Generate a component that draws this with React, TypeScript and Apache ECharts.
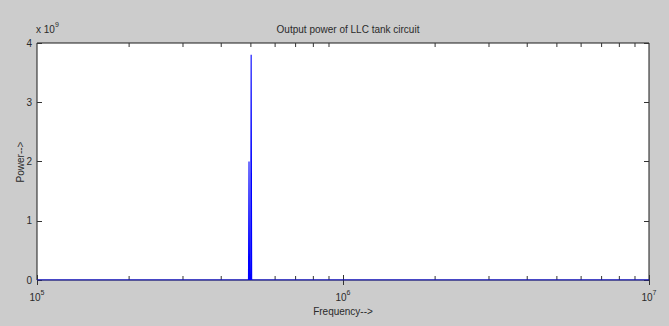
import React, { useEffect, useRef } from "react";
import * as echarts from "echarts";

// Swept frequency (Hz) and the output power measured at each point (W)
const frequency = [1e5, 4.88e5, 4.91e5, 4.93e5, 4.95e5, 4.99e5, 5.01e5, 5.03e5, 1e7];
const power = [0, 0, 0, 2.0e9, 0, 0, 3.8e9, 0, 0];

// Decade (major) and intermediate (minor) tick positions on the log frequency axis
const majorFreqTicks = [1e5, 1e6, 1e7];
const minorFreqTicks = [
  2e5, 3e5, 4e5, 5e5, 6e5, 7e5, 8e5, 9e5,
  2e6, 3e6, 4e6, 5e6, 6e6, 7e6, 8e6, 9e6,
];
const powerTicks = [0, 1, 2, 3, 4]; // in units of 1e9

const FONT = "'Liberation Sans Narrow', 'Liberation Sans', Arial, sans-serif";
const TEXT = "#2a2a2a";

export default function App() {
  const ref = useRef<HTMLDivElement>(null);

  useEffect(() => {
    document.body.style.margin = "0";
    const chart = echarts.init(ref.current!, null, { renderer: "svg" });

    const decadeLabel = (v: number) => {
      const exp = Math.round(Math.log10(v));
      return `{b|10}{s|${exp}}`;
    };
    const decadeRich = {
      b: { fontSize: 10, fontFamily: FONT, color: TEXT },
      s: { fontSize: 7, fontFamily: FONT, color: TEXT, padding: [0, 0, 9, 0] },
    };

    const xBase = {
      type: "log" as const,
      logBase: 10,
      min: 1e5,
      max: 1e7,
      axisLine: { show: false },
      splitLine: { show: false },
      axisTick: { show: true, inside: true, length: 5, lineStyle: { color: "#333", width: 1 } },
    };
    const yBase = {
      type: "value" as const,
      min: 0,
      max: 4e9,
      interval: 1e9,
      axisLine: { show: false },
      splitLine: { show: false },
      axisTick: { show: true, inside: true, length: 5, lineStyle: { color: "#333", width: 1 } },
    };

    chart.setOption({
      animation: false,
      backgroundColor: "#cccccc",
      title: {
        text: "Output power of LLC tank circuit",
        left: 343,
        textAlign: "center",
        top: 19,
        textStyle: { fontSize: 10, fontWeight: "normal", fontFamily: FONT, color: TEXT },
      },
      grid: {
        left: 37,
        right: 20,
        top: 43,
        bottom: 46,
        show: true,
        backgroundColor: "#ffffff",
        borderColor: "#1a1a1a",
        borderWidth: 1,
      },
      graphic: [
        {
          type: "text",
          left: 36,
          top: 21,
          style: {
            text: "{a|x 10}{s|9}",
            rich: {
              a: { fontSize: 10, fontFamily: FONT, fill: TEXT },
              s: { fontSize: 7, fontFamily: FONT, fill: TEXT, padding: [0, 0, 9, 0] },
            },
          },
        },
        {
          // y-axis title
          type: "text",
          x: 20,
          y: 162,
          rotation: Math.PI / 2,
          style: {
            text: "Power-->",
            fontSize: 10,
            fontFamily: "'Liberation Sans', Arial, sans-serif",
            fill: TEXT,
            align: "center",
            verticalAlign: "middle",
          },
        },
      ],
      xAxis: [
        {
          ...xBase,
          position: "bottom",
          name: "Frequency-->",
          nameLocation: "middle",
          nameGap: 26,
          nameTextStyle: { fontSize: 10, fontFamily: FONT, color: TEXT },
          axisLabel: {
            show: true,
            margin: 9,
            formatter: (v: number) =>
              majorFreqTicks.some((t) => Math.abs(t - v) / t < 1e-6) ? decadeLabel(v) : "",
            rich: decadeRich,
          },
        },
        {
          ...xBase,
          position: "top",
          axisLabel: { show: false },
        },
      ],
      yAxis: [
        {
          ...yBase,
          position: "left",
          axisLabel: {
            show: true,
            margin: 5,
            fontSize: 10,
            fontFamily: FONT,
            color: TEXT,
            formatter: (v: number) => {
              const t = Math.round(v / 1e9);
              return powerTicks.includes(t) ? String(t) : "";
            },
          },
        },
        {
          ...yBase,
          position: "right",
          axisLabel: { show: false },
        },
      ],
      series: [
        {
          type: "line",
          xAxisIndex: 0,
          yAxisIndex: 0,
          data: frequency.map((f, i) => [f, power[i]]),
          showSymbol: false,
          lineStyle: { color: "#0000ff", width: 1.1 },
          z: 3,
        },
        {
          // intermediate log ticks at 2..9 × each decade, top and bottom, pointing inward
          type: "custom",
          xAxisIndex: 0,
          yAxisIndex: 0,
          clip: false,
          silent: true,
          data: minorFreqTicks.map((f) => [f, 0]),
          renderItem: (params: any, api: any) => {
            const x = api.coord([api.value(0), 0])[0];
            const cs = params.coordSys;
            const top = cs.y;
            const bottom = cs.y + cs.height;
            const len = 4;
            const style = { stroke: "#333", lineWidth: 1 };
            return {
              type: "group",
              children: [
                { type: "line", shape: { x1: x, y1: bottom, x2: x, y2: bottom - len }, style },
                { type: "line", shape: { x1: x, y1: top, x2: x, y2: top + len }, style },
              ],
            };
          },
          z: 2,
        },
      ],
    });

    return () => chart.dispose();
  }, []);

  return <div ref={ref} style={{ position: "fixed", left: 0, top: 0, width: 669, height: 326 }} />;
}
